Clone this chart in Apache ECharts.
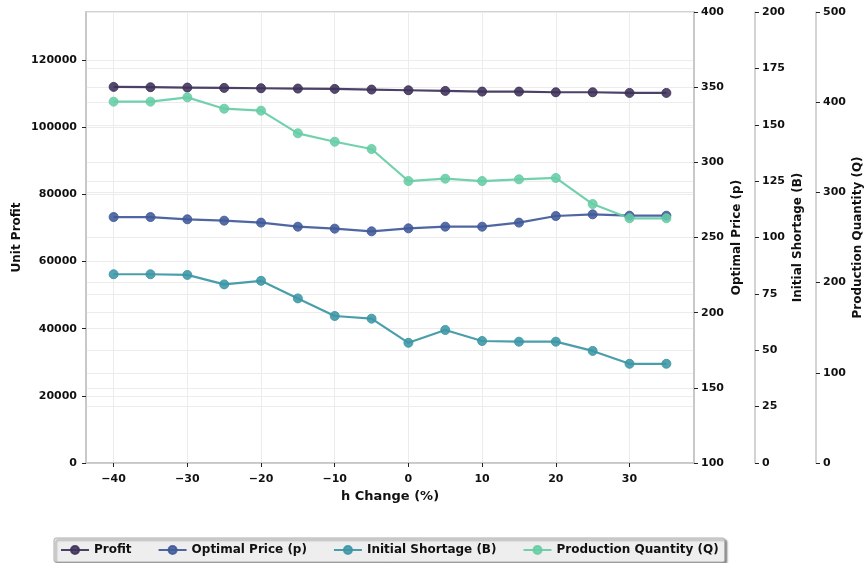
<!DOCTYPE html>
<html>
<head>
<meta charset="utf-8">
<script src="https://cdn.jsdelivr.net/npm/echarts@6/dist/echarts.min.js"></script>
<style>
  html, body { margin: 0; padding: 0; background: #fff; }
  #chart { width: 866px; height: 563px; }
</style>
</head>
<body>
<div id="chart"></div>
<script>
// Sensitivity of the optimal solution to changes in h
const hChange = [-40, -35, -30, -25, -20, -15, -10, -5, 0, 5, 10, 15, 20, 25, 30, 35];
const profit = [112000, 111900, 111800, 111700, 111600, 111500, 111400, 111200, 111000, 110800, 110600, 110600, 110400, 110400, 110200, 110200];
const optimalPrice = [263.6, 263.6, 262.1, 261.2, 259.9, 257.2, 255.9, 254.1, 256.1, 257.2, 257.2, 259.9, 264.3, 265.4, 264.5, 264.5];
const initialShortage = [83.7, 83.7, 83.4, 79.2, 80.8, 73.0, 65.2, 64.0, 53.3, 59.0, 54.1, 53.8, 53.8, 49.7, 44.0, 44.0];
const productionQty = [400.6, 400.6, 405.4, 392.8, 390.6, 365.5, 356.2, 348.1, 312.6, 315.2, 312.6, 314.5, 316.0, 287.1, 271.3, 271.3];

const xTicks = [-40, -30, -20, -10, 0, 10, 20, 30];
const profitTicks = [0, 20000, 40000, 60000, 80000, 100000, 120000];

const FONT = 'DejaVu Sans';
const colors = {
  profit: '#3d3159',
  price: '#40599a',
  shortage: '#3b96a5',
  qty: '#66cda5'
};

const plain = v => String(v).replace('-', '\u2212');
const labelStyle = { color: '#111', fontFamily: FONT, fontWeight: 'bold', fontSize: 11, formatter: plain };
const nameStyle = { color: '#111', fontFamily: FONT, fontWeight: 'bold', fontSize: 12 };
const gridLine = { show: true, lineStyle: { color: '#ececec', width: 1 } };
const tickStyle = { show: true, length: 4, inside: false, lineStyle: { color: '#222', width: 1 } };
const spine = { show: true, onZero: false, lineStyle: { color: '#c4c4c4', width: 1.5 } };

function rightAxis(name, min, max, interval, offset, gap) {
  return {
    type: 'value', position: 'right', offset: offset,
    min: min, max: max, interval: interval,
    name: name, nameLocation: 'middle', nameRotate: 90, nameGap: gap,
    nameMoveOverlap: false,
    nameTextStyle: nameStyle,
    axisLine: spine, axisTick: tickStyle,
    axisLabel: Object.assign({}, labelStyle, { margin: 7 }),
    splitLine: gridLine
  };
}

function lineSeries(name, data, yIdx, color) {
  return {
    name: name, type: 'line', yAxisIndex: yIdx,
    data: hChange.map((h, i) => [h, data[i]]),
    symbol: 'circle', symbolSize: 9,
    lineStyle: { color: color, width: 2.2, opacity: 0.92 },
    itemStyle: { color: color, opacity: 0.88, borderColor: color, borderWidth: 1 },
    emphasis: { disabled: true },
    z: 3
  };
}

const chart = echarts.init(document.getElementById('chart'), null, { renderer: 'canvas' });
chart.setOption({
  animation: false,
  backgroundColor: '#ffffff',
  grid: {
    left: 86, right: 172, top: 12, bottom: 100,
    containLabel: false, outerBoundsMode: 'none',
    show: true, borderColor: '#c4c4c4', borderWidth: 1.5, backgroundColor: 'transparent'
  },
  xAxis: {
    type: 'value', min: -43.75, max: 38.75,
    name: 'h Change (%)', nameLocation: 'middle', nameGap: 27,
    nameTextStyle: Object.assign({}, nameStyle, { fontSize: 13 }),
    axisLine: spine,
    axisTick: Object.assign({}, tickStyle, { customValues: xTicks }),
    axisLabel: Object.assign({}, labelStyle, { margin: 11, customValues: xTicks }),
    splitLine: gridLine
  },
  yAxis: [
    {
      type: 'value', position: 'left', min: 0, max: 134300,
      name: 'Unit Profit', nameLocation: 'middle', nameRotate: 90, nameGap: 63,
      nameMoveOverlap: false,
      nameTextStyle: nameStyle,
      axisLine: spine,
      axisTick: Object.assign({}, tickStyle, { customValues: profitTicks }),
      axisLabel: Object.assign({}, labelStyle, { margin: 9, customValues: profitTicks }),
      splitLine: gridLine
    },
    rightAxis('Optimal Price (p)', 100, 400, 50, 0, 37),
    rightAxis('Initial Shortage (B)', 0, 200, 25, 61, 37),
    rightAxis('Production Quantity (Q)', 0, 500, 100, 122, 36)
  ],
  legend: {
    left: 54, top: 538,
    backgroundColor: '#eeeeee', borderColor: '#b0b0b0', borderWidth: 1, borderRadius: 2,
    shadowColor: 'rgba(0,0,0,0.45)', shadowOffsetX: 2, shadowOffsetY: 2, shadowBlur: 2,
    padding: [6, 6, 6, 6], itemGap: 26, itemWidth: 28, itemHeight: 10,
    textStyle: { color: '#111', fontFamily: FONT, fontWeight: 'bold', fontSize: 12 },
    data: ['Profit', 'Optimal Price (p)', 'Initial Shortage (B)', 'Production Quantity (Q)']
  },
  series: [
    lineSeries('Profit', profit, 0, colors.profit),
    lineSeries('Optimal Price (p)', optimalPrice, 1, colors.price),
    lineSeries('Initial Shortage (B)', initialShortage, 2, colors.shortage),
    lineSeries('Production Quantity (Q)', productionQty, 3, colors.qty)
  ]
});
</script>
</body>
</html>
